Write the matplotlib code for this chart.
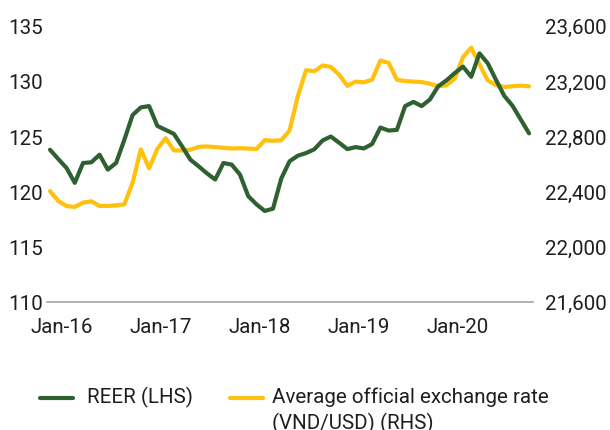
import matplotlib
matplotlib.use("Agg")
import matplotlib.pyplot as plt
from matplotlib.lines import Line2D
from matplotlib.ticker import FuncFormatter
import numpy as np

plt.rcParams['font.family'] = ['Roboto', 'DejaVu Sans']

# Monthly series
reer = [123.76, 122.92, 122.11, 120.76, 122.56, 122.62, 123.31, 121.96, 122.56, 124.66,
        126.91, 127.60, 127.72, 125.92, 125.56, 125.20, 124.06, 122.86, 122.26, 121.62,
        121.06, 122.56, 122.41, 121.51, 119.56, 118.81, 118.21, 118.42, 121.15, 122.71,
        123.22, 123.46, 123.80, 124.60, 124.96, 124.40, 123.82, 124.00, 123.88, 124.28,
        125.77, 125.50, 125.56, 127.72, 128.10, 127.72, 128.32, 129.51, 130.05, 130.71,
        131.30, 130.38, 132.50, 131.60, 130.10, 128.65, 127.75, 126.50, 125.25]
vnd_usd = [22401, 22329, 22293, 22286, 22317, 22327, 22293, 22293, 22298, 22305,
           22461, 22704, 22566, 22708, 22785, 22696, 22696, 22701, 22722, 22725,
           22720, 22715, 22710, 22712, 22710, 22706, 22771, 22766, 22770, 22840,
           23088, 23278, 23270, 23312, 23302, 23246, 23165, 23195, 23190, 23209,
           23348, 23331, 23209, 23199, 23195, 23192, 23180, 23161, 23168, 23216,
           23372, 23442, 23320, 23204, 23171, 23156, 23161, 23166, 23161]
tick_labels = ['Jan-16', 'Jan-17', 'Jan-18', 'Jan-19', 'Jan-20']
left_ticks = [110, 115, 120, 125, 130, 135]
right_ticks = [21600, 22000, 22400, 22800, 23200, 23600]

GREEN = '#2F6130'
YELLOW = '#FFC10E'
TEXT = '#1E1E1E'
FS = 14.8

fig = plt.figure(figsize=(6.10, 4.31), dpi=100)
W, H = 610, 431
ax = fig.add_axes([47 / W, 1 - 302.5 / H, 486 / W, (302.5 - 26.8) / H])
ax2 = ax.twinx()

x = np.arange(len(reer))
ax.plot(x, reer, color=GREEN, lw=3.0, solid_joinstyle='round', solid_capstyle='round', zorder=3)
ax2.plot(x, vnd_usd, color=YELLOW, lw=3.0, solid_joinstyle='round', solid_capstyle='round', zorder=2)
ax.set_zorder(ax2.get_zorder() + 1)
ax.patch.set_visible(False)

ax.set_xlim(-0.363, 58.48)
ax.set_ylim(110, 135)
ax2.set_ylim(21600, 23600)
ax.set_yticks(left_ticks)
ax2.set_yticks(right_ticks)
ax2.yaxis.set_major_formatter(FuncFormatter(lambda v, p: f'{int(v):,}'))

tick_pos = [1.42 + 11.97 * k for k in range(len(tick_labels))]
ax.set_xticks(tick_pos)
ax.set_xticklabels(tick_labels)

for a in (ax, ax2):
    for s in a.spines.values():
        s.set_visible(False)
ax.spines['bottom'].set_visible(True)
ax.spines['bottom'].set_color('#A6A6A6')
ax.spines['bottom'].set_linewidth(1.2)

ax.tick_params(axis='x', length=0, pad=11, labelsize=FS, labelcolor=TEXT)
ax.tick_params(axis='y', length=0, pad=3, labelsize=FS, labelcolor=TEXT)
ax2.tick_params(axis='y', length=0, pad=9, labelsize=FS, labelcolor=TEXT)

# Legend (manual, handle aligned with first text line)
fig.add_artist(Line2D([40 / W, 73 / W], [1 - 399.3 / H] * 2, color=GREEN, lw=3.0,
                      solid_capstyle='round', transform=fig.transFigure))
fig.text(86.7 / W, 1 - 403 / H, 'REER (LHS)', fontsize=FS, color=TEXT, va='baseline', ha='left')
fig.add_artist(Line2D([230 / W, 262.7 / W], [1 - 399.3 / H] * 2, color=YELLOW, lw=3.0,
                      solid_capstyle='round', transform=fig.transFigure))
fig.text(271.7 / W, 1 - 403 / H, 'Average official exchange rate', fontsize=FS, color=TEXT,
         va='baseline', ha='left')
fig.text(271.7 / W, 1 - 429 / H, '(VND/USD) (RHS)', fontsize=FS, color=TEXT,
         va='baseline', ha='left')

fig.savefig('out.png', dpi=100)
